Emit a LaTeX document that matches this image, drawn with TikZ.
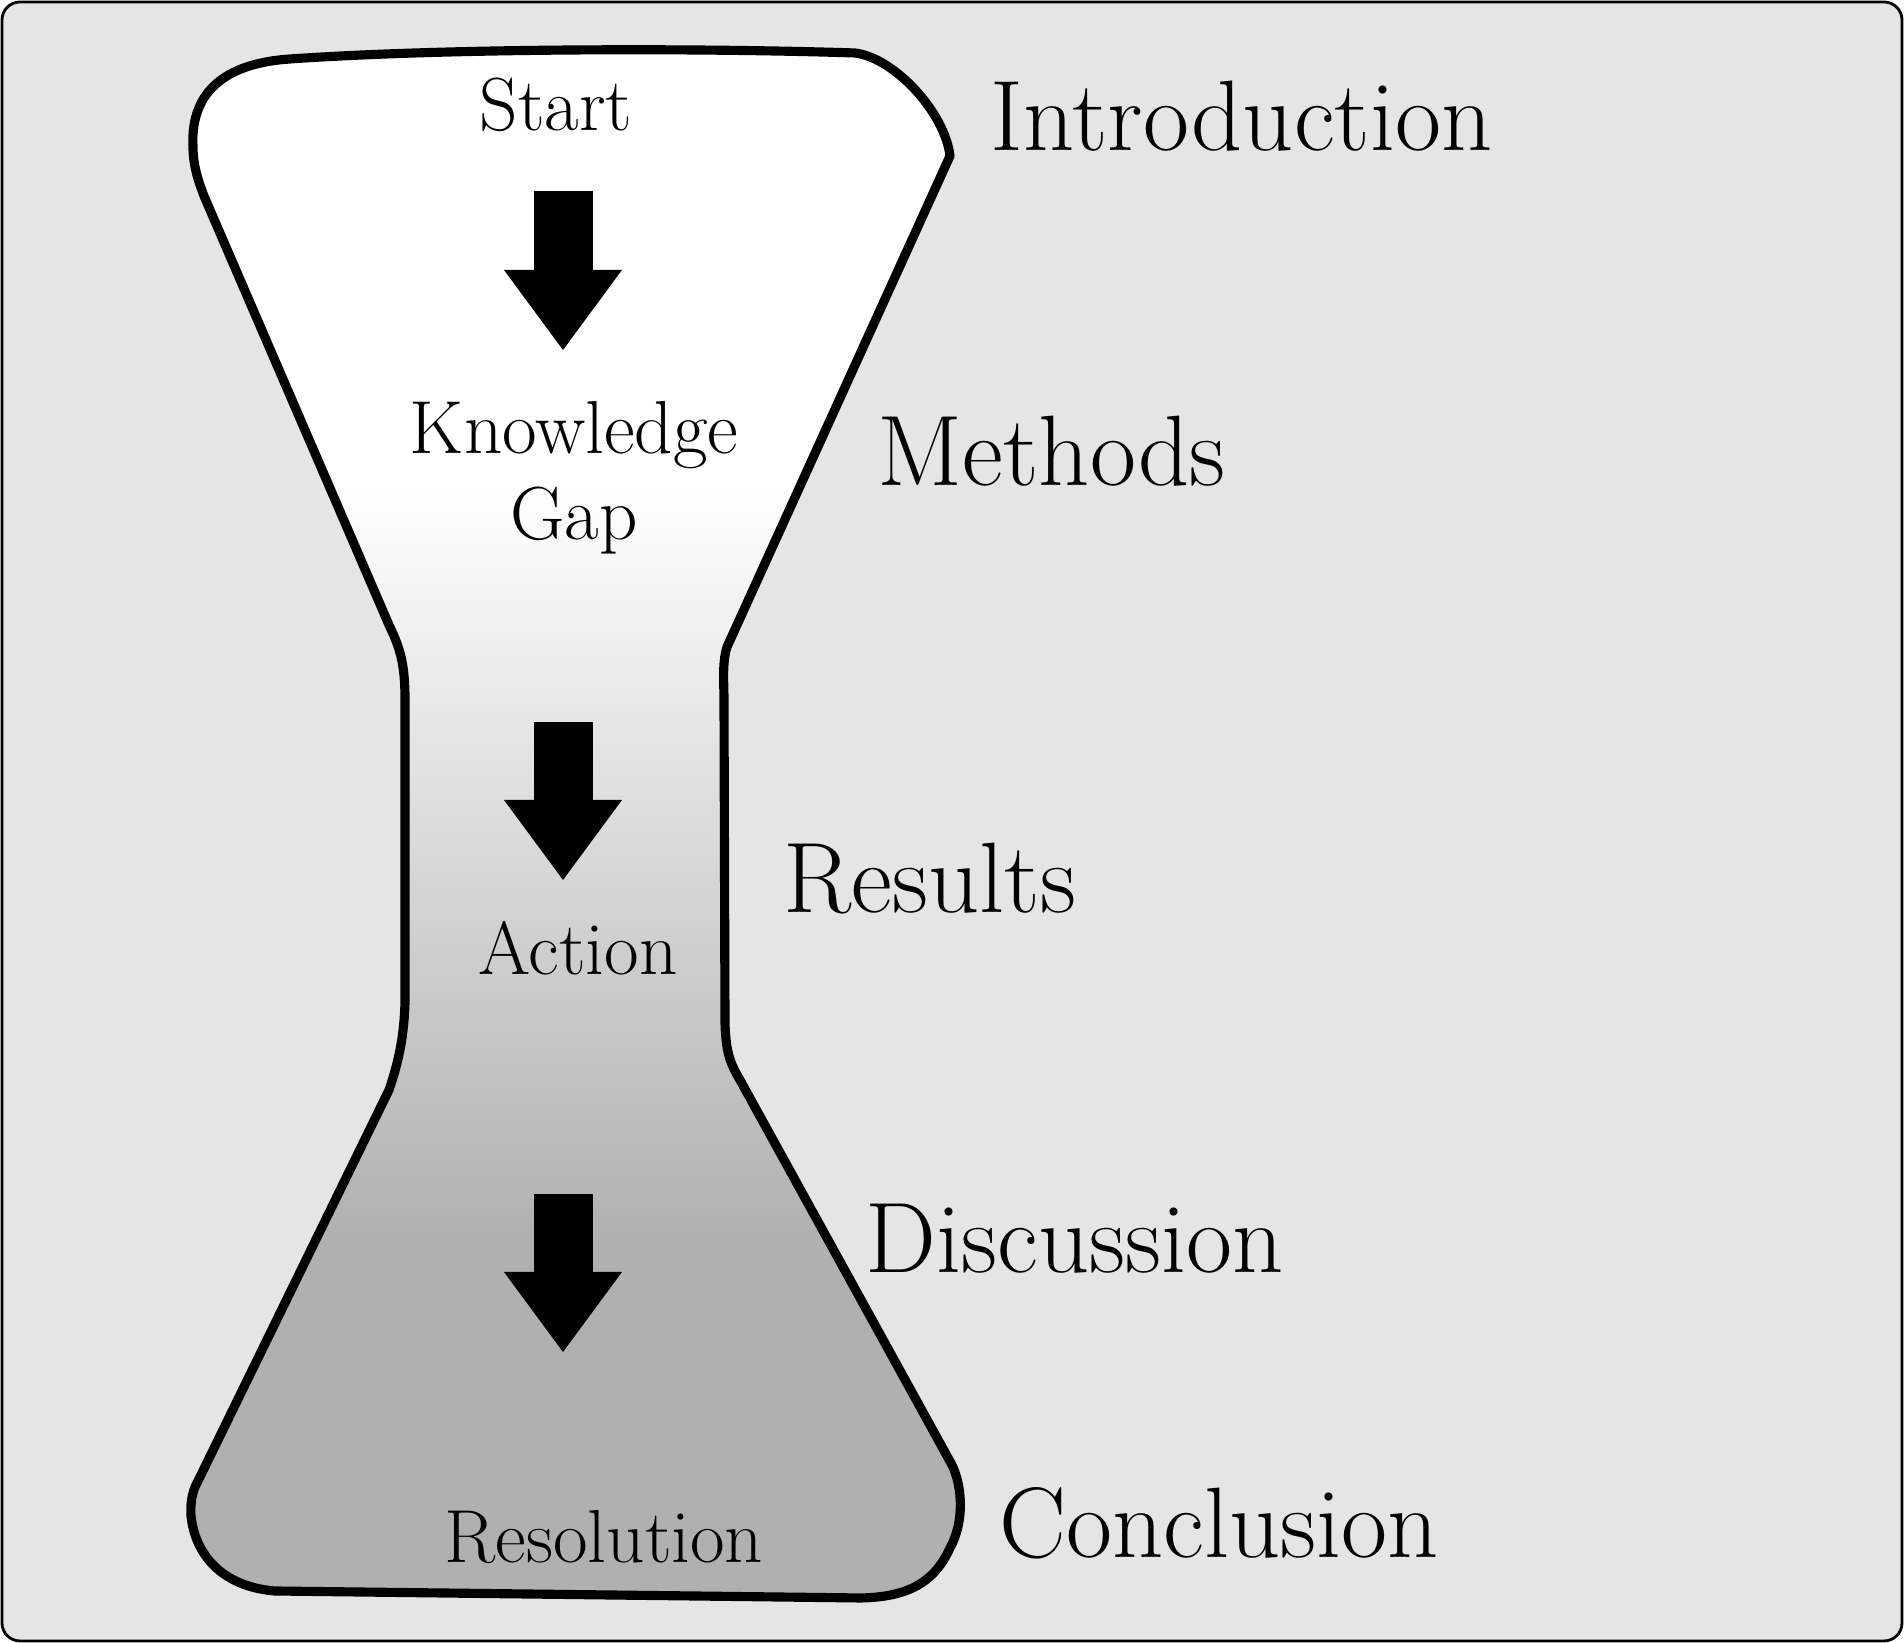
\documentclass[tikz,border=0pt]{standalone}
\usepackage{tikz}
\usepackage{xcolor}
\usetikzlibrary{arrows.meta,positioning,calc}
\definecolor{panelbg}{gray}{0.9}
\definecolor{deepgray}{gray}{0.69}
\pgfdeclareverticalshading{flaskfill}{100bp}{color(0bp)=(deepgray); color(36.5bp)=(deepgray);
  color(61bp)=(white); color(100bp)=(white)}

\begin{document}
\begin{tikzpicture}[stage/.style={inner sep=0pt,font=\fontsize{21.4}{24.4}\selectfont,align=center},
  section/.style={inner sep=0pt,anchor=base west,font=\fontsize{28.5}{33}\selectfont},
  downarrow/.style={line width=5.9mm,-{Triangle[width=11.8mm,length=8mm,line width=0pt]}}]
  \useasboundingbox (0,0) rectangle (19.04,16.43);
  \draw[fill=panelbg,line width=0.8pt,rounded corners=1.8mm] (0.02,0.02) rectangle (19.02,16.41);
  % hourglass body
  \shadedraw[shading=flaskfill,line width=2.6pt,line join=round]
    (1.93,14.96) .. controls (1.90,15.55) and (2.30,15.80) .. (2.90,15.84)
    .. controls (4.50,15.95) and (7.00,15.95) .. (8.55,15.90)
    .. controls (8.95,15.85) and (9.45,15.30) .. (9.50,14.87)
    -- (7.27,9.96) .. controls (7.22,9.80) and (7.24,9.60) .. (7.24,9.43)
    -- (7.25,6.20) .. controls (7.26,5.90) and (7.30,5.80) .. (7.40,5.63)
    -- (9.52,1.78) .. controls (9.63,1.55) and (9.64,1.20) .. (9.50,0.95)
    .. controls (9.35,0.62) and (9.10,0.46) .. (8.61,0.45)
    -- (2.74,0.52) .. controls (2.20,0.57) and (1.95,0.90) .. (1.91,1.27)
    .. controls (1.90,1.45) and (1.94,1.55) .. (1.98,1.62)
    -- (3.89,5.53) .. controls (4.00,5.85) and (4.04,6.10) .. (4.05,6.40)
    -- (4.05,9.43) .. controls (4.05,9.80) and (4.00,9.95) .. (3.89,10.18)
    -- (2.04,14.47) .. controls (1.97,14.65) and (1.93,14.80) .. cycle;
  % stages inside
  \node[stage,anchor=base] (start) at (5.56,15.12) {Start};
  \node[stage] (gap) at (5.74,11.65) {Knowledge\\Gap};
  \node[stage,anchor=base] (action) at (5.78,6.68) {Action};
  \node[stage,anchor=base] (resolution) at (6.04,0.80) {Resolution};
  \foreach \i/\top/\tip in {1/14.52/12.93,2/9.21/7.63,3/4.49/2.91}{
    \coordinate (arr\i a) at (5.63,\top);
    \coordinate (arr\i b) at (5.63,\tip);
    \draw[downarrow] (arr\i a) -- (arr\i b);
  }
  % paper sections
  \node[section] (intro) at (9.90,14.92) {Introduction};
  \node[section] (methods) at (8.77,11.57) {Methods};
  \node[section] (results) at (7.83,7.30) {Results};
  \node[section] (discussion) at (8.65,3.70) {Discussion};
  \node[section] (conclusion) at (9.99,0.85) {Conclusion};
\end{tikzpicture}
\end{document}
